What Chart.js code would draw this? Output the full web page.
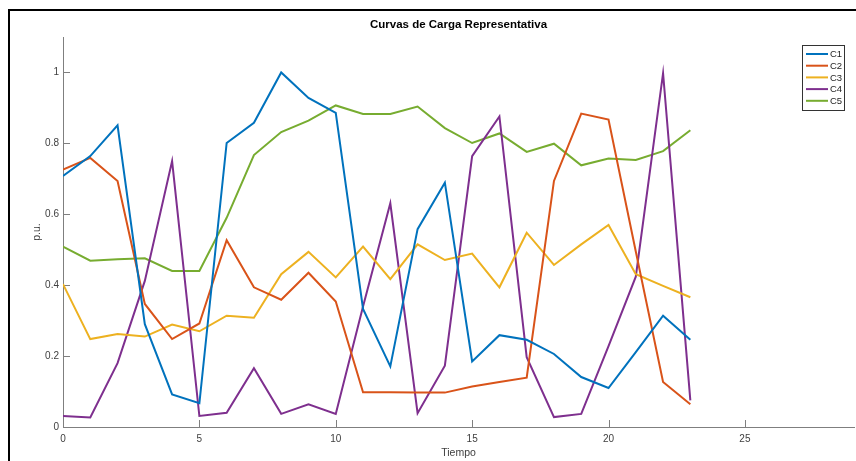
<!DOCTYPE html>
<html>
<head>
<meta charset="utf-8">
<script src="https://cdn.jsdelivr.net/npm/chart.js@4.4.1/dist/chart.umd.min.js"></script>
<style>
  html, body { margin: 0; padding: 0; background: #ffffff; }
  #wrap { width: 856px; height: 461px; position: relative; }
</style>
</head>
<body>
<div id="wrap"><canvas id="chart" width="856" height="461"></canvas></div>
<script>
// Hourly representative load curves, in per-unit values
const hours = [0, 1, 2, 3, 4, 5, 6, 7, 8, 9, 10, 11, 12, 13, 14, 15, 16, 17, 18, 19, 20, 21, 22, 23];
const seriesNames = ['C1', 'C2', 'C3', 'C4', 'C5'];
const c1 = [0.708, 0.764, 0.851, 0.290, 0.092, 0.067, 0.801, 0.858, 1.000, 0.928, 0.886, 0.333,
            0.171, 0.558, 0.689, 0.185, 0.259, 0.246, 0.206, 0.141, 0.110, 0.211, 0.314, 0.246];
const c2 = [0.726, 0.759, 0.694, 0.347, 0.248, 0.292, 0.527, 0.394, 0.359, 0.435, 0.354, 0.098,
            0.098, 0.097, 0.097, 0.114, 0.127, 0.139, 0.694, 0.884, 0.867, 0.495, 0.127, 0.064];
const c3 = [0.403, 0.248, 0.262, 0.255, 0.289, 0.270, 0.314, 0.308, 0.431, 0.494, 0.422, 0.509,
            0.417, 0.515, 0.471, 0.489, 0.394, 0.548, 0.457, 0.515, 0.570, 0.431, 0.398, 0.366];
const c4 = [0.031, 0.027, 0.180, 0.412, 0.750, 0.031, 0.040, 0.166, 0.037, 0.064, 0.037, 0.340,
            0.631, 0.039, 0.173, 0.764, 0.876, 0.197, 0.028, 0.037, 0.228, 0.424, 0.998, 0.075];
const c5 = [0.509, 0.469, 0.473, 0.476, 0.440, 0.440, 0.590, 0.767, 0.832, 0.864, 0.907, 0.883,
            0.883, 0.904, 0.843, 0.801, 0.828, 0.776, 0.799, 0.738, 0.757, 0.753, 0.778, 0.837];
const xTicks = [0, 5, 10, 15, 20, 25];
const yTicks = [0, 0.2, 0.4, 0.6, 0.8, 1];
const titleText = 'Curvas de Carga Representativa';
const xTitle = 'Tiempo';
const yTitle = 'p.u.';

const colors = ['#0072BD', '#D95319', '#EDB120', '#7E2F8E', '#77AC30'];
const values = [c1, c2, c3, c4, c5];
const fontFamily = '"Liberation Sans", Arial, Helvetica, sans-serif';
const axisColor = '#7f7f7f';
const textColor = '#404040';

// Inward tick marks, MATLAB style
const innerTicks = {
  id: 'innerTicks',
  beforeDatasetsDraw(chart) {
    const { ctx, chartArea, scales: { x, y } } = chart;
    ctx.save();
    ctx.strokeStyle = axisColor;
    ctx.lineWidth = 1;
    x.ticks.forEach(t => {
      const px = Math.round(x.getPixelForValue(t.value)) + 0.5;
      ctx.beginPath();
      ctx.moveTo(px, chartArea.bottom);
      ctx.lineTo(px, chartArea.bottom - 7);
      ctx.stroke();
    });
    y.ticks.forEach(t => {
      const py = Math.round(y.getPixelForValue(t.value)) + 0.5;
      ctx.beginPath();
      ctx.moveTo(chartArea.left, py);
      ctx.lineTo(chartArea.left + 7, py);
      ctx.stroke();
    });
    ctx.restore();
  }
};

// Boxed legend in the upper right corner of the plot area
const boxLegend = {
  id: 'boxLegend',
  afterDraw(chart) {
    const { ctx } = chart;
    const bx = 802.5, by = 45.5, bw = 42, bh = 65;
    ctx.save();
    ctx.fillStyle = '#ffffff';
    ctx.fillRect(bx, by, bw, bh);
    ctx.strokeStyle = '#333333';
    ctx.lineWidth = 1;
    ctx.strokeRect(bx, by, bw, bh);
    ctx.font = '9.5px ' + fontFamily;
    ctx.textBaseline = 'middle';
    ctx.textAlign = 'left';
    chart.data.datasets.forEach((ds, i) => {
      const cy = 54 + i * 11.7;
      ctx.strokeStyle = ds.borderColor;
      ctx.lineWidth = 2;
      ctx.beginPath();
      ctx.moveTo(806, cy);
      ctx.lineTo(828, cy);
      ctx.stroke();
      ctx.fillStyle = '#262626';
      ctx.fillText(ds.label, 830, cy + 0.5);
    });
    ctx.restore();
  }
};

// Figure frame
const frame = {
  id: 'frame',
  afterDraw(chart) {
    const { ctx } = chart;
    ctx.save();
    ctx.fillStyle = '#000000';
    ctx.fillRect(8, 9, 2, 461);
    ctx.fillRect(8, 9, 848, 2);
    ctx.restore();
  }
};

new Chart(document.getElementById('chart'), {
  type: 'line',
  data: {
    datasets: values.map((vals, i) => ({
      label: seriesNames[i],
      data: hours.map((h, j) => ({ x: h, y: vals[j] })),
      borderColor: colors[i],
      backgroundColor: colors[i],
      borderWidth: 2,
      pointRadius: 0,
      tension: 0,
      fill: false
    }))
  },
  options: {
    responsive: false,
    animation: false,
    devicePixelRatio: 1,
    layout: { padding: { left: 0, right: 2, top: 0, bottom: 0 } },
    plugins: {
      legend: { display: false },
      tooltip: { enabled: false },
      title: {
        display: true,
        fullSize: false,
        text: titleText,
        color: '#000000',
        font: { family: fontFamily, size: 11.5, weight: 'bold' },
        padding: { top: 18, bottom: 5.2 }
      }
    },
    scales: {
      x: {
        type: 'linear',
        min: 0,
        max: 29,
        afterBuildTicks: s => { s.ticks = xTicks.map(v => ({ value: v })); },
        afterFit: s => { s.height = 34; },
        grid: { display: false, drawTicks: false },
        border: { display: true, color: axisColor, width: 1 },
        ticks: {
          color: textColor,
          font: { family: fontFamily, size: 10 },
          padding: 6,
          maxRotation: 0,
          autoSkip: false,
          callback: v => String(v)
        },
        title: {
          display: true,
          text: xTitle,
          color: textColor,
          font: { family: fontFamily, size: 10.5 },
          padding: { top: 0, bottom: 2 }
        }
      },
      y: {
        type: 'linear',
        min: 0,
        max: 1.1,
        afterBuildTicks: s => { s.ticks = yTicks.map(v => ({ value: v })); },
        afterFit: s => { s.width = 63; },
        grid: { display: false, drawTicks: false },
        border: { display: true, color: axisColor, width: 1 },
        ticks: {
          color: textColor,
          font: { family: fontFamily, size: 10 },
          padding: 4,
          autoSkip: false,
          callback: v => String(v)
        },
        title: {
          display: true,
          text: yTitle,
          color: textColor,
          font: { family: fontFamily, size: 10.5 },
          padding: { top: 31, bottom: 0 }
        }
      }
    }
  },
  plugins: [innerTicks, boxLegend, frame]
});
</script>
</body>
</html>
